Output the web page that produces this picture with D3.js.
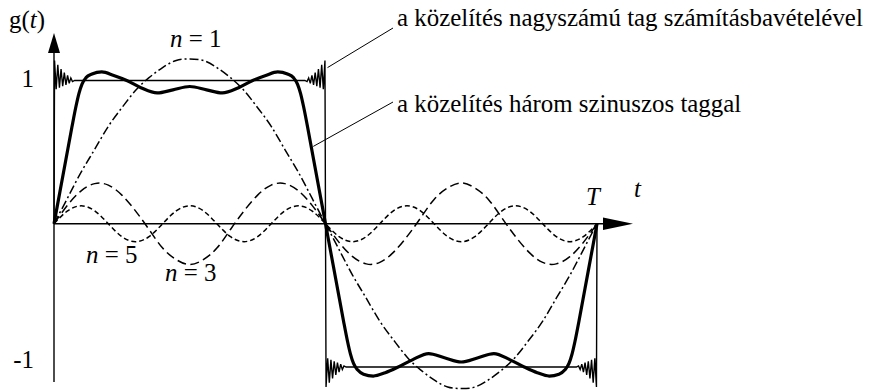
<!DOCTYPE html>
<html>
<head>
<meta charset="utf-8">
<script src="https://cdn.jsdelivr.net/npm/d3@7"></script>
<style>
  body { margin: 0; background: #fff; }
</style>
</head>
<body>
<svg id="chart" width="871" height="391"></svg>
<script>
// Sample positions along one period, as fractions of T
const tGrid = [0, 0.025, 0.05, 0.075, 0.1, 0.125, 0.15, 0.175, 0.2, 0.225,
  0.25, 0.275, 0.3, 0.325, 0.35, 0.375, 0.4, 0.425, 0.45, 0.475,
  0.5, 0.525, 0.55, 0.575, 0.6, 0.625, 0.65, 0.675, 0.7, 0.725,
  0.75, 0.775, 0.8, 0.825, 0.85, 0.875, 0.9, 0.925, 0.95, 0.975, 1];

// First harmonic (n = 1)
const harmonic1 = [0, 0.18, 0.36, 0.52, 0.68, 0.81, 0.93, 1.02, 1.09, 1.14,
  1.15, 1.14, 1.09, 1.02, 0.93, 0.81, 0.68, 0.52, 0.36, 0.18,
  0, -0.18, -0.36, -0.52, -0.68, -0.81, -0.93, -1.02, -1.09, -1.14,
  -1.15, -1.14, -1.09, -1.02, -0.93, -0.81, -0.68, -0.52, -0.36, -0.18, 0];

// Third harmonic (n = 3)
const harmonic3 = [0, 0.13, 0.23, 0.28, 0.27, 0.20, 0.09, -0.04, -0.17, -0.25,
  -0.285, -0.25, -0.17, -0.04, 0.09, 0.20, 0.27, 0.28, 0.23, 0.13,
  0, -0.13, -0.23, -0.28, -0.27, -0.20, -0.09, 0.04, 0.17, 0.25,
  0.285, 0.25, 0.17, 0.04, -0.09, -0.20, -0.27, -0.28, -0.23, -0.13, 0];

// Fifth harmonic (n = 5)
const harmonic5 = [0, 0.09, 0.125, 0.09, 0, -0.09, -0.125, -0.09, 0, 0.09,
  0.125, 0.09, 0, -0.09, -0.125, -0.09, 0, 0.09, 0.125, 0.09,
  0, -0.09, -0.125, -0.09, 0, 0.09, 0.125, 0.09, 0, -0.09,
  -0.125, -0.09, 0, 0.09, 0.125, 0.09, 0, -0.09, -0.125, -0.09, 0];

// Sum of the three sine terms
const threeTermT = [0, 0.011, 0.022, 0.033, 0.0405, 0.046, 0.0516, 0.059, 0.07, 0.088,
  0.11, 0.134, 0.16, 0.19, 0.219, 0.25, 0.281, 0.31, 0.34, 0.366,
  0.39, 0.412, 0.43, 0.441, 0.4484, 0.454, 0.4595, 0.467, 0.478, 0.489,
  0.5, 0.511, 0.522, 0.533, 0.5405, 0.546, 0.5516, 0.559, 0.57, 0.588,
  0.61, 0.634, 0.66, 0.69, 0.719, 0.75, 0.781, 0.81, 0.84, 0.866,
  0.89, 0.912, 0.93, 0.941, 0.9484, 0.954, 0.9595, 0.967, 0.978, 0.989, 1];
const threeTermG = [0, 0.225, 0.45, 0.675, 0.82, 0.91, 0.975, 1.02, 1.045, 1.06,
  1.035, 1.0, 0.95, 0.913, 0.935, 0.958, 0.935, 0.913, 0.95, 1.0,
  1.035, 1.06, 1.045, 1.02, 0.975, 0.91, 0.82, 0.675, 0.45, 0.225,
  0, -0.225, -0.45, -0.675, -0.82, -0.91, -0.975, -1.02, -1.05, -1.063,
  -1.04, -1.0, -0.95, -0.906, -0.935, -0.965, -0.935, -0.906, -0.95, -1.0,
  -1.04, -1.063, -1.05, -1.02, -0.975, -0.91, -0.82, -0.675, -0.45, -0.225, 0];

// Ringing of the many-term approximation next to each jump:
// distance from the jump (fraction of T) and deviation from the level
const gibbsDt = [0.001, 0.004, 0.007, 0.010, 0.013, 0.016, 0.019, 0.022, 0.025, 0.028, 0.031, 0.034, 0.038];
const gibbsDg = [0.14, -0.06, 0.11, -0.05, 0.08, -0.04, 0.055, -0.03, 0.035, -0.02, 0.018, -0.008, 0];

const yTickValues = [1, -1];
const yTickLabels = ["1", "-1"];

const svg = d3.select("#chart");
const x = d3.scaleLinear().domain([0, 1]).range([54, 597]);
const y = d3.scaleLinear().domain([-1, 1]).range([367, 80.5]);

const line = d3.line().x(d => x(d[0])).y(d => y(d[1]));

function txt(px, py) {
  return svg.append("text").attr("x", px).attr("y", py)
    .style("font-family", "Liberation Serif").attr("font-size", 24.9).attr("fill", "#000");
}

// Axes with arrow heads
const x0 = x(0), y0 = y(0);
svg.append("line").attr("x1", x0).attr("x2", x0).attr("y1", 382).attr("y2", 50)
  .attr("stroke", "#000").attr("stroke-width", 1.4);
svg.append("path").attr("d", `M${x0},33 L${x0 - 6},53 L${x0 + 6},53 Z`).attr("fill", "#000");
svg.append("line").attr("x1", x0).attr("x2", x(1) + 8).attr("y1", y0).attr("y2", y0)
  .attr("stroke", "#000").attr("stroke-width", 1.4);
svg.append("path").attr("d", `M${x(1) + 36},${y0} L${x(1) + 6},${y0 - 6.3} L${x(1) + 6},${y0 + 6.3} Z`)
  .attr("fill", "#000");

// Harmonic components
const comps = [
  { vals: harmonic1, dash: "9,3,2,3" },
  { vals: harmonic3, dash: "9,4.5" },
  { vals: harmonic5, dash: "5,3" }
];
comps.forEach(c => {
  svg.append("path")
    .attr("d", line.curve(d3.curveNatural)(tGrid.map((t, i) => [t, c.vals[i]])))
    .attr("fill", "none").attr("stroke", "#000").attr("stroke-width", 1.5)
    .attr("stroke-dasharray", c.dash);
});

// Many-term approximation (square wave with ringing)
const approx = [[0, 0]];
gibbsDt.forEach((d, i) => approx.push([d, 1 + gibbsDg[i]]));
for (let i = gibbsDt.length - 1; i >= 0; i--) approx.push([0.5 - gibbsDt[i], 1 + gibbsDg[i]]);
gibbsDt.forEach((d, i) => approx.push([0.5 + d, -1 - gibbsDg[i]]));
for (let i = gibbsDt.length - 1; i >= 0; i--) approx.push([1 - gibbsDt[i], -1 - gibbsDg[i]]);
approx.push([1, 0]);
svg.append("path")
  .attr("d", line.curve(d3.curveLinear)(approx))
  .attr("fill", "none").attr("stroke", "#000").attr("stroke-width", 1.4);

// Three-term approximation
svg.append("path")
  .attr("d", line.curve(d3.curveMonotoneX)(threeTermT.map((t, i) => [t, threeTermG[i]])))
  .attr("fill", "none").attr("stroke", "#000").attr("stroke-width", 3.2)
  .attr("stroke-linejoin", "round");

// Tick labels
yTickValues.forEach((v, i) => {
  txt(34, y(v) + (v > 0 ? 6.5 : 0.5)).attr("text-anchor", "end").text(yTickLabels[i]);
});

// Axis labels
const gl = txt(9, 28);
gl.append("tspan").text("g(");
gl.append("tspan").attr("font-style", "italic").text("t");
gl.append("tspan").text(")");
txt(x(1) - 11, 205).attr("font-style", "italic").text("T");
txt(634, 197).attr("font-style", "italic").text("t");

// Harmonic labels
function nLabel(px, py, num) {
  const t = txt(px, py);
  t.append("tspan").attr("font-style", "italic").text("n");
  t.append("tspan").text(" = " + num);
}
nLabel(170, 47, 1);
nLabel(86, 263, 5);
nLabel(165, 281, 3);

// Annotations with leader lines
svg.append("line").attr("x1", x(0.5) + 2).attr("y1", y(1.09)).attr("x2", 393).attr("y2", 28)
  .attr("stroke", "#000").attr("stroke-width", 1);
txt(397, 26).text("a közelítés nagyszámú tag számításbavételével");
svg.append("line").attr("x1", x(0.4775)).attr("y1", y(0.54)).attr("x2", 393).attr("y2", 102)
  .attr("stroke", "#000").attr("stroke-width", 1);
txt(397, 112).text("a közelítés három szinuszos taggal");
</script>
</body>
</html>
